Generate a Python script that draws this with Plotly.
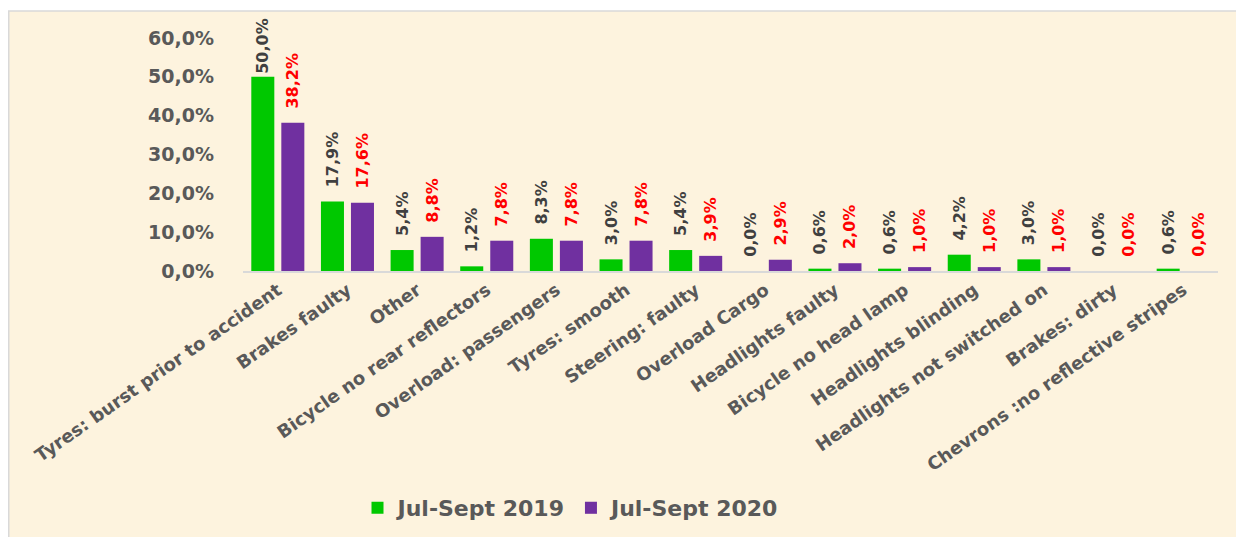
import plotly.graph_objects as go

categories = [
    "Tyres: burst prior to accident", "Brakes faulty", "Other",
    "Bicycle no rear reflectors", "Overload: passengers", "Tyres: smooth",
    "Steering: faulty", "Overload Cargo", "Headlights faulty",
    "Bicycle no head lamp", "Headlights blinding", "Headlights not switched on",
    "Brakes: dirty", "Chevrons :no reflective stripes",
]
series_2019 = [0.500, 0.179, 0.054, 0.012, 0.083, 0.030, 0.054, 0.000, 0.006, 0.006, 0.042, 0.030, 0.000, 0.006]
series_2020 = [0.382, 0.176, 0.088, 0.078, 0.078, 0.078, 0.039, 0.029, 0.020, 0.010, 0.010, 0.010, 0.000, 0.000]
y_ticks = [0.0, 0.1, 0.2, 0.3, 0.4, 0.5, 0.6]

FONT = "Verdana, DejaVu Sans, sans-serif"
OFF = 8  # page body margin
W, H = 1244 - OFF, 537 - OFF
L, T = 243 - OFF, 38 - OFF
R = W - (1218 - OFF)
B = H - (271 - OFF)
pw, ph = W - L - R, H - T - B

def px_x(p):
    return (p - OFF - L) / pw

def px_y(p):
    return (H - B - (p - OFF)) / ph

PAD = "\u00a0\u00a0"

def label_templates(values):
    # labels sit a little above the bars; the tallest one is pushed against the chart top
    return [("" if v >= 0.45 else PAD) + "%{y:.1%}" for v in values]

fig = go.Figure()
fig.add_trace(go.Bar(
    x=categories, y=series_2019, name="Jul-Sept 2019",
    marker=dict(color="#00C800", line=dict(width=0)),
    texttemplate=label_templates(series_2019), textposition="outside", textangle=-90,
    outsidetextfont=dict(family=FONT, size=16, color="#404040", weight="bold"),
    constraintext="none", cliponaxis=False,
))
fig.add_trace(go.Bar(
    x=categories, y=series_2020, name="Jul-Sept 2020",
    marker=dict(color="#7030A0", line=dict(width=0)),
    texttemplate=label_templates(series_2020), textposition="outside", textangle=-90,
    outsidetextfont=dict(family=FONT, size=16, color="#FF0000", weight="bold"),
    constraintext="none", cliponaxis=False,
))

fig.update_layout(
    width=W, height=H,
    margin=dict(l=L, r=R, t=T, b=B, autoexpand=False),
    paper_bgcolor="white", plot_bgcolor="rgba(0,0,0,0)",
    separators=",.",
    barmode="group", bargap=0.138, bargroupgap=0.233,
    font=dict(family=FONT, color="#595959"),
    showlegend=True,
    legend=dict(orientation="h", x=px_x(571), y=px_y(508), xanchor="center", yanchor="middle",
                font=dict(family=FONT, size=22, color="#595959", weight="bold"),
                bgcolor="rgba(0,0,0,0)"),
    shapes=[dict(type="rect", xref="paper", yref="paper", layer="below",
                 x0=px_x(OFF + 0.75), x1=px_x(1260), y0=px_y(560), y1=px_y(11),
                 fillcolor="#FDF3DE", line=dict(color="#D9D9D9", width=1.5))],
)
fig.update_xaxes(
    showline=True, linecolor="#D9D9D9", linewidth=1.5, showgrid=False,
    tickangle=-35, ticks="",
    tickfont=dict(family=FONT, size=18, color="#595959", weight="bold"),
)
fig.update_yaxes(
    range=[0, 0.6], tickvals=y_ticks, tickformat=".1%", showgrid=False,
    showline=False, zeroline=False, ticks="", ticklabelstandoff=28,
    tickfont=dict(family=FONT, size=19, color="#595959", weight="bold"),
)

fig.write_html("out.html")
